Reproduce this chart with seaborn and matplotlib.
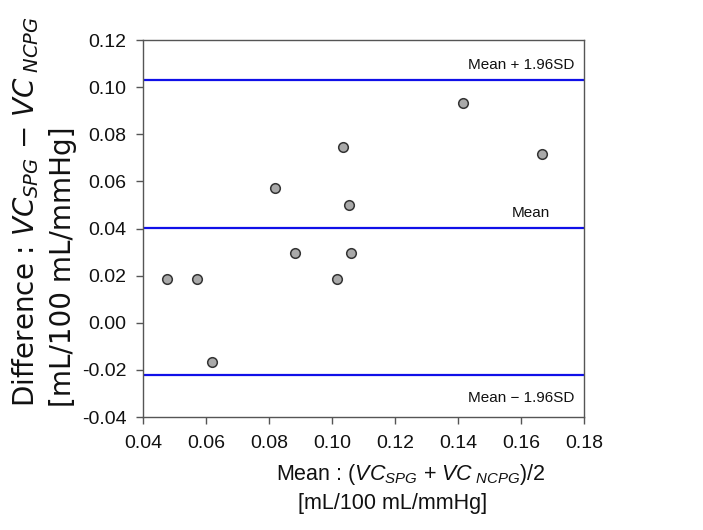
import matplotlib
matplotlib.use("Agg")
import matplotlib.pyplot as plt
import seaborn as sns
import pandas as pd

# Bland-Altman data: mean of the two methods vs. their difference
mean_vc = [0.0475, 0.0570, 0.0619, 0.0820, 0.0881, 0.1015, 0.1034, 0.1055, 0.1059, 0.1417, 0.1666]
diff_vc = [0.0184, 0.0187, -0.0165, 0.0574, 0.0298, 0.0184, 0.0748, 0.0499, 0.0295, 0.0933, 0.0716]

# Reference lines: mean difference and limits of agreement
line_values = [0.1031, 0.0403, -0.0223]
line_labels = ["Mean + 1.96SD", "Mean", "Mean \u2212 1.96SD"]
label_x = [0.1771, 0.1692, 0.1771]
label_above = [True, True, False]

x_ticks = [0.04, 0.06, 0.08, 0.10, 0.12, 0.14, 0.16, 0.18]
y_ticks = [-0.04, -0.02, 0.00, 0.02, 0.04, 0.06, 0.08, 0.10, 0.12]

sns.set_theme(style="white")
plt.rcParams["font.family"] = ["Liberation Sans", "DejaVu Sans"]
plt.rcParams["mathtext.fontset"] = "custom"
plt.rcParams["mathtext.rm"] = "Liberation Sans"
plt.rcParams["mathtext.it"] = "Liberation Sans:italic"

df = pd.DataFrame({"mean": mean_vc, "diff": diff_vc})

fig = plt.figure(figsize=(7.03, 5.30), dpi=100)
ax = fig.add_axes([0.2034, 0.2132, 0.6273, 0.7113])

for v in line_values:
    ax.axhline(v, color="#1010e8", lw=1.6, zorder=1)

sns.scatterplot(data=df, x="mean", y="diff", ax=ax, s=48, color="#a9a9a9",
                edgecolor="#333333", linewidth=1.1, zorder=3)

# Labels for the reference lines, right-aligned near the right edge
for v, lab, lx, above in zip(line_values, line_labels, label_x, label_above):
    if above:
        ax.text(lx, v + 0.0033, lab, ha="right", va="bottom",
                fontsize=11, color="#111111")
    else:
        ax.text(lx, v - 0.0068, lab, ha="right", va="top",
                fontsize=11, color="#111111")

ax.set_xlim(0.04, 0.18)
ax.set_ylim(-0.04, 0.12)
ax.set_xticks(x_ticks)
ax.set_yticks(y_ticks)
ax.set_xticklabels([f"{t:.2f}" for t in x_ticks])
ax.set_yticklabels([f"{t:.2f}" for t in y_ticks])
ax.tick_params(axis="both", which="major", direction="out", length=5, width=1,
               color="#555555", labelsize=14, bottom=True, left=True,
               top=False, right=False, labelcolor="#111111")
ax.tick_params(axis="x", pad=8)
ax.tick_params(axis="y", pad=7)
for sp in ax.spines.values():
    sp.set_color("#555555")
    sp.set_linewidth(1.0)

ax.set_xlabel("")
ax.set_ylabel("")

# Axis titles
x_font = ["Liberation Sans", "DejaVu Sans"]
fig.text(411 / 703, 1 - 480 / 530,
         r"Mean : ($VC_{SPG}$ + $VC_{\ NCPG}$)/2",
         ha="center", va="baseline", fontsize=15.5, family=x_font,
         color="#111111")
fig.text(393 / 703, 1 - 509 / 530, "[mL/100 mL/mmHg]", ha="center",
         va="baseline", fontsize=15.5, family=x_font, color="#111111")

y_font = ["DejaVu Sans"]
fig.text(26 / 703, 1 - 407 / 530,
         "Difference : $VC_{SPG}$ \u2212 $VC_{\\ NCPG}$",
         ha="center", va="bottom", rotation=90, fontsize=20,
         family=y_font, color="#111111", math_fontfamily="dejavusans")
fig.text(63 / 703, 1 - 407 / 530, "[mL/100 mL/mmHg]", ha="center",
         va="bottom", rotation=90, fontsize=20, family=y_font,
         color="#111111")

fig.savefig("out.png", dpi=100)
